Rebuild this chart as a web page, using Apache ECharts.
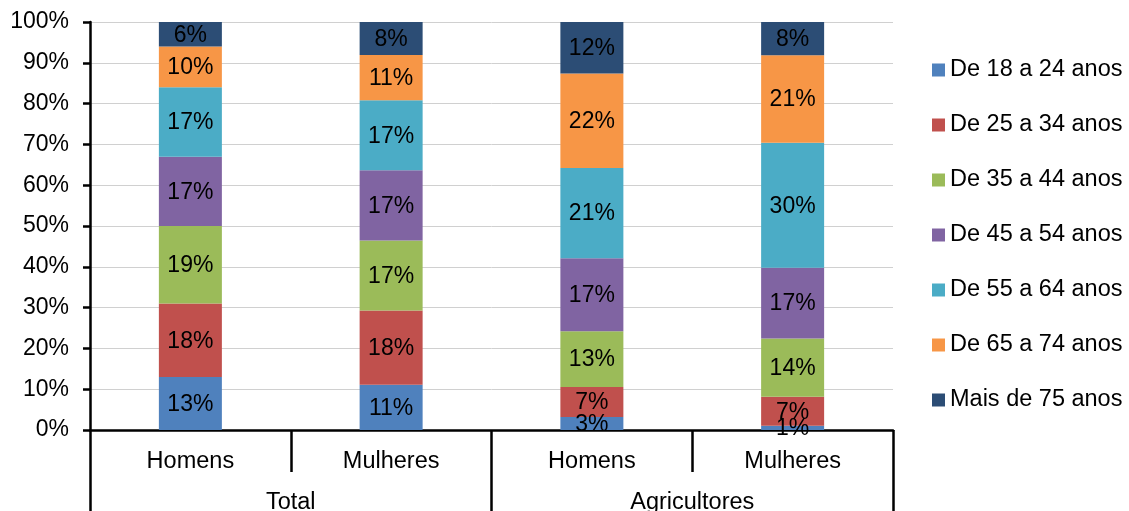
<!DOCTYPE html>
<html>
<head>
<meta charset="utf-8">
<script src="https://cdn.jsdelivr.net/npm/echarts@6/dist/echarts.min.js"></script>
<style>html,body{margin:0;padding:0;background:#fff}#c{width:1129px;height:511px}</style>
</head>
<body>
<div id="c"></div>
<script>
const categories = ['Homens', 'Mulheres', 'Homens', 'Mulheres'];
const groups = ['Total', 'Agricultores'];
const seriesNames = ['De 18 a 24 anos', 'De 25 a 34 anos', 'De 35 a 44 anos', 'De 45 a 54 anos', 'De 55 a 64 anos', 'De 65 a 74 anos', 'Mais de 75 anos'];
const age18_24 = [13, 11, 3, 1];
const age25_34 = [18, 18, 7, 7];
const age35_44 = [19, 17, 13, 14];
const age45_54 = [17, 17, 17, 17];
const age55_64 = [17, 17, 21, 30];
const age65_74 = [10, 11, 22, 21];
const age75plus = [6, 8, 12, 8];
const yTicks = [0, 10, 20, 30, 40, 50, 60, 70, 80, 90, 100];
const colors = ['#4F81BD', '#C0504D', '#9BBB59', '#8064A2', '#4BACC6', '#F79646', '#2C4D75'];

const raw = [age18_24, age25_34, age35_44, age45_54, age55_64, age65_74, age75plus];
const totals = categories.map((_, i) => raw.reduce((s, a) => s + a[i], 0));
const FONT = '"Liberation Sans", Arial, sans-serif';

const series = raw.map((arr, k) => ({
  name: seriesNames[k],
  type: 'bar',
  stack: 'all',
  barWidth: 63,
  xAxisIndex: 0,
  itemStyle: { color: colors[k] },
  data: arr.map((v, i) => ({ value: v / totals[i] * 100, raw: v })),
  label: {
    show: true,
    position: 'inside',
    offset: [0, 1],
    color: '#000',
    fontFamily: FONT,
    fontSize: 23,
    formatter: p => p.data.raw + '%'
  }
}));

const chart = echarts.init(document.getElementById('c'));
chart.setOption({
  animation: false,
  backgroundColor: '#fff',
  grid: { left: 90, right: 236, top: 22, bottom: 81, containLabel: false, outerBoundsMode: 'none' },
  legend: {
    orient: 'vertical',
    left: 932,
    top: 58,
    padding: 0,
    itemWidth: 13,
    itemHeight: 13,
    itemGap: 31,
    icon: 'rect',
    textStyle: { fontFamily: FONT, fontSize: 23.5, color: '#000', lineHeight: 24 },
    data: seriesNames
  },
  xAxis: [
    {
      type: 'category',
      data: categories,
      position: 'bottom',
      axisLine: { show: true, lineStyle: { color: '#000', width: 2.5 } },
      axisTick: { show: true, length: 42, lineStyle: { color: '#000', width: 2.5 } },
      axisLabel: { margin: 20, color: '#000', fontFamily: FONT, fontSize: 23.5 }
    },
    {
      type: 'category',
      data: groups,
      position: 'bottom',
      axisLine: { show: false },
      axisTick: { show: true, length: 90, lineStyle: { color: '#000', width: 2.5 } },
      axisLabel: { margin: 61, color: '#000', fontFamily: FONT, fontSize: 23.5 }
    }
  ],
  yAxis: {
    type: 'value',
    min: yTicks[0],
    max: yTicks[yTicks.length - 1],
    interval: 10,
    axisLine: { show: true, lineStyle: { color: '#000', width: 2.5 } },
    axisTick: { show: true, length: 7, lineStyle: { color: '#000', width: 2.5 } },
    axisLabel: { margin: 21, color: '#000', fontFamily: FONT, fontSize: 23, formatter: '{value}%' },
    splitLine: { show: true, lineStyle: { color: '#D0D0D0', width: 1 } }
  },
  series: series
});
</script>
</body>
</html>
